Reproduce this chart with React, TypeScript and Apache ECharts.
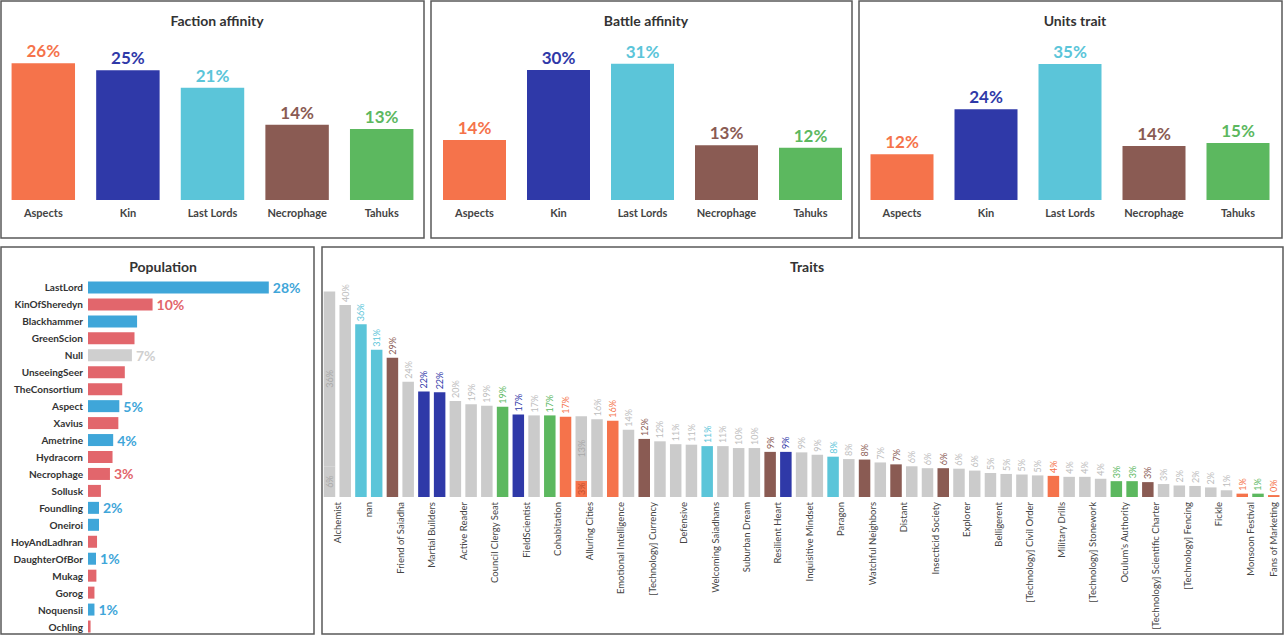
import React, { useEffect, useRef } from 'react';
import * as echarts from 'echarts';

// ---------- data ----------
const factions = ['Aspects', 'Kin', 'Last Lords', 'Necrophage', 'Tahuks'];
const factionColorKeys = ['orange', 'blue', 'teal', 'brown', 'green'];
const factionAffinity = [25.8, 24.5, 21.2, 14.2, 13.4];
const battleAffinity = [13.8, 29.9, 31.3, 12.6, 12.0];
const unitsTrait = [11.9, 23.6, 35.3, 14.0, 14.8];

const popNames = ['LastLord', 'KinOfSheredyn', 'Blackhammer', 'GreenScion', 'Null', 'UnseeingSeer', 'TheConsortium', 'Aspect', 'Xavius', 'Ametrine', 'Hydracorn', 'Necrophage', 'Sollusk', 'Foundling', 'Oneiroi', 'HoyAndLadhran', 'DaughterOfBor', 'Mukag', 'Gorog', 'Noquensii', 'Ochling'];
const popValues = [28.0, 10.0, 7.6, 7.2, 6.8, 5.7, 5.3, 4.85, 4.7, 3.9, 3.8, 3.4, 2.0, 1.7, 1.7, 1.4, 1.24, 1.3, 1.0, 1.0, 0.4];
const popColorKeys = ['pblue', 'pred', 'pblue', 'pred', 'pgray', 'pred', 'pred', 'pblue', 'pred', 'pblue', 'pred', 'pred', 'pred', 'pblue', 'pblue', 'pred', 'pblue', 'pred', 'pred', 'pblue', 'pred'];
const popLabeled = ['LastLord', 'KinOfSheredyn', 'Null', 'Aspect', 'Ametrine', 'Necrophage', 'Foundling', 'DaughterOfBor', 'Noquensii'];

const traitLabels = ['Alchemist', 'nan', 'Friend of Saiadha', 'Martial Builders', 'Active Reader', 'Council Clergy Seat', 'FieldScientist', 'Cohabitation', 'Alluring Cities', 'Emotional Intelligence', '[Technology] Currency', 'Defensive', 'Welcoming Saiadhans', 'Suburban Dream', 'Resilient Heart', 'Inquisitive Mindset', 'Paragon', 'Watchful Neighbors', 'Distant', 'Insecticid Society', 'Explorer', 'Belligerent', '[Technology] Civil Order', 'Military Drills', '[Technology] Stonework', "Oculum's Authority", '[Technology] Scientific Charter', '[Technology] Fencing', 'Fickle', 'Monsoon Festival', 'Fans of Marketing'];
const traitLower = [6.4, 40, 36, 30.7, 29, 24, 22, 21.8, 20, 19.3, 19, 18.8, 17.2, 17, 17, 16.7, 3.4, 16.2, 15.9, 14, 12.1, 11.6, 11, 10.9, 10.6, 10.6, 10.2, 10.2, 9.4, 9.4, 9.3, 8.8, 8.4, 7.9, 7.8, 7.2, 6.8, 6.4, 6.0, 6.0, 5.9, 5.5, 5.0, 4.8, 4.7, 4.5, 4.4, 4.2, 4.2, 3.8, 3.3, 3.3, 3.1, 2.7, 2.4, 2.3, 2.0, 1.4, 0.7, 0.7, 0.4];
const traitLowerColor = ['gray', 'gray', 'teal', 'teal', 'brown', 'gray', 'blue', 'blue', 'gray', 'gray', 'gray', 'green', 'blue', 'gray', 'green', 'orange', 'orange', 'gray', 'orange', 'gray', 'brown', 'gray', 'gray', 'gray', 'teal', 'gray', 'gray', 'gray', 'brown', 'blue', 'gray', 'gray', 'teal', 'gray', 'brown', 'gray', 'brown', 'gray', 'gray', 'brown', 'gray', 'gray', 'gray', 'gray', 'gray', 'gray', 'orange', 'gray', 'gray', 'gray', 'green', 'green', 'brown', 'gray', 'gray', 'gray', 'gray', 'gray', 'orange', 'green', 'orange'];
const traitUpper: (number | null)[] = traitLower.map(() => null);
traitUpper[0] = 36.4;
traitUpper[16] = 13.4;
const traitUpperColor: Record<number, string> = { 0: 'gray', 16: 'gray' };

// ---------- styles ----------
const COLORS: Record<string, string> = {
  orange: '#f5734b', blue: '#2f39a8', teal: '#5bc5d9', brown: '#8a5b53', green: '#5cb85f', gray: '#cbcbcb',
  pblue: '#3fa6d9', pred: '#e2666c', pgray: '#cfcfcf',
};
const LABEL_COLORS: Record<string, string> = { ...COLORS, gray: '#bdbdbd' };
const FONT = 'Lato, "Noto Sans", sans-serif';

function factionGrid(idx: number, values: number[], grid: any, max: number) {
  return {
    grid: { left: grid.left, top: 41, width: grid.width, height: 159 },
    xAxis: {
      type: 'category', gridIndex: idx, data: factions,
      axisLine: { show: false }, axisTick: { show: false },
      axisLabel: { interval: 0, fontSize: 11, fontWeight: 'bold', color: '#444', fontFamily: FONT, margin: 7 },
    },
    yAxis: { type: 'value', gridIndex: idx, min: 0, max, show: false, splitLine: { show: false } },
    series: {
      type: 'bar', xAxisIndex: idx, yAxisIndex: idx, barCategoryGap: '25%',
      data: values.map((v, i) => ({
        value: v,
        itemStyle: { color: COLORS[factionColorKeys[i]] },
        label: { color: COLORS[factionColorKeys[i]] },
      })),
      label: {
        show: true, position: 'top', distance: 4, fontSize: 17, fontWeight: 'bold', fontFamily: FONT,
        formatter: (p: any) => Math.round(p.value) + '%',
      },
    },
  };
}

function buildOption() {
  const f0 = factionGrid(0, factionAffinity, { left: 1, width: 423 }, 30);
  const f1 = factionGrid(1, battleAffinity, { left: 432.5, width: 420 }, 36.55);
  const f2 = factionGrid(2, unitsTrait, { left: 860, width: 420 }, 41.3);

  const panels = [
    [1, 1, 423, 237], [431, 1, 421, 237], [859, 1, 423, 237],
    [1, 247, 313, 387], [322, 247, 961, 387],
  ];

  return {
    animation: false,
    backgroundColor: '#ffffff',
    textStyle: { fontFamily: FONT },
    title: [
      { text: 'Faction affinity', left: 212, top: 8 },
      { text: 'Battle affinity', left: 641, top: 8 },
      { text: 'Units trait', left: 1070, top: 8 },
      { text: 'Population', left: 158, top: 254 },
      { text: 'Traits', left: 802, top: 254 },
    ].map((t) => ({ ...t, textAlign: 'center', textStyle: { fontSize: 14, fontWeight: 'bold', color: '#333', fontFamily: FONT } })),
    graphic: panels.map(([x, y, w, h]) => ({
      type: 'rect', shape: { x, y, width: w, height: h }, silent: true, z: 100,
      style: { fill: 'none', stroke: '#5a5a5a', lineWidth: 1.5 },
    })),
    grid: [
      f0.grid, f1.grid, f2.grid,
      { left: 88, top: 279, width: 226, height: 356 },
      { left: 321.6, top: 281, width: 960, height: 216 },
    ],
    xAxis: [
      f0.xAxis, f1.xAxis, f2.xAxis,
      { type: 'value', gridIndex: 3, min: 0, max: 35, show: false },
      {
        type: 'category', gridIndex: 4, data: traitLower.map((_, i) => String(i + 1)),
        axisLine: { show: false }, axisTick: { show: false }, axisLabel: { show: false },
      },
      {
        type: 'value', gridIndex: 4, position: 'bottom', min: 0, max: 61, interval: 0.5,
        axisLine: { show: false }, axisTick: { show: false }, splitLine: { show: false },
        axisLabel: {
          show: true, rotate: 90, fontSize: 9.5, color: '#444', fontFamily: FONT, margin: 5,
          showMinLabel: true, showMaxLabel: true,
          formatter: (v: number) => {
            if (Math.abs(v - 60.5) < 1e-6) return traitLabels[30];
            if (Number.isInteger(v) && v % 2 === 1 && v <= 59) return traitLabels[(v - 1) / 2];
            return '';
          },
        },
      },
    ],
    yAxis: [
      f0.yAxis, f1.yAxis, f2.yAxis,
      {
        type: 'category', gridIndex: 3, data: popNames, inverse: true,
        axisLine: { show: false }, axisTick: { show: false },
        axisLabel: { interval: 0, fontSize: 10, fontWeight: 'bold', color: '#333', fontFamily: FONT, margin: 5 },
      },
      { type: 'value', gridIndex: 4, min: 0, max: 45, show: false, splitLine: { show: false } },
    ],
    series: [
      f0.series, f1.series, f2.series,
      {
        type: 'bar', xAxisIndex: 3, yAxisIndex: 3, barWidth: 12,
        data: popValues.map((v, i) => ({
          value: v,
          itemStyle: { color: COLORS[popColorKeys[i]] },
          label: { show: popLabeled.includes(popNames[i]), color: COLORS[popColorKeys[i]] },
        })),
        label: {
          show: false, position: 'right', distance: 4, fontSize: 14, fontWeight: 'bold', fontFamily: FONT,
          formatter: (p: any) => Math.round(p.value) + '%',
        },
      },
      {
        type: 'bar', xAxisIndex: 4, yAxisIndex: 4, stack: 'traits', barWidth: 11.5,
        data: traitLower.map((v, i) => {
          const stacked = traitUpper[i] != null;
          return {
            value: v,
            itemStyle: { color: COLORS[traitLowerColor[i]] },
            label: stacked
              ? { position: 'inside', align: 'center', verticalAlign: 'middle', color: traitLowerColor[i] === 'gray' ? '#a9a9a9' : '#c4502e' }
              : { color: LABEL_COLORS[traitLowerColor[i]] },
          };
        }),
        label: {
          show: true, position: 'top', rotate: 90, align: 'left', verticalAlign: 'middle', distance: 3,
          fontSize: 9, fontFamily: FONT,
          formatter: (p: any) => Math.round(p.value) + '%',
        },
      },
      {
        type: 'bar', xAxisIndex: 4, yAxisIndex: 4, stack: 'traits', barWidth: 11.5,
        data: traitUpper.map((v, i) => v == null ? '-' : ({
          value: v,
          itemStyle: { color: COLORS[traitUpperColor[i]] },
        })),
        label: {
          show: true, position: 'inside', rotate: 90, align: 'center', verticalAlign: 'middle',
          fontSize: 9, fontFamily: FONT, color: '#a9a9a9',
          formatter: (p: any) => Math.round(p.value) + '%',
        },
      },
    ],
  };
}

export default function App() {
  const ref = useRef<HTMLDivElement>(null);
  useEffect(() => {
    const chart = echarts.init(ref.current!, null, { renderer: 'svg' });
    chart.setOption(buildOption() as any);
    return () => chart.dispose();
  }, []);
  return (
    <div
      ref={ref}
      style={{ position: 'absolute', left: 0, top: 0, width: 1285, height: 638, background: '#fff' }}
    />
  );
}
